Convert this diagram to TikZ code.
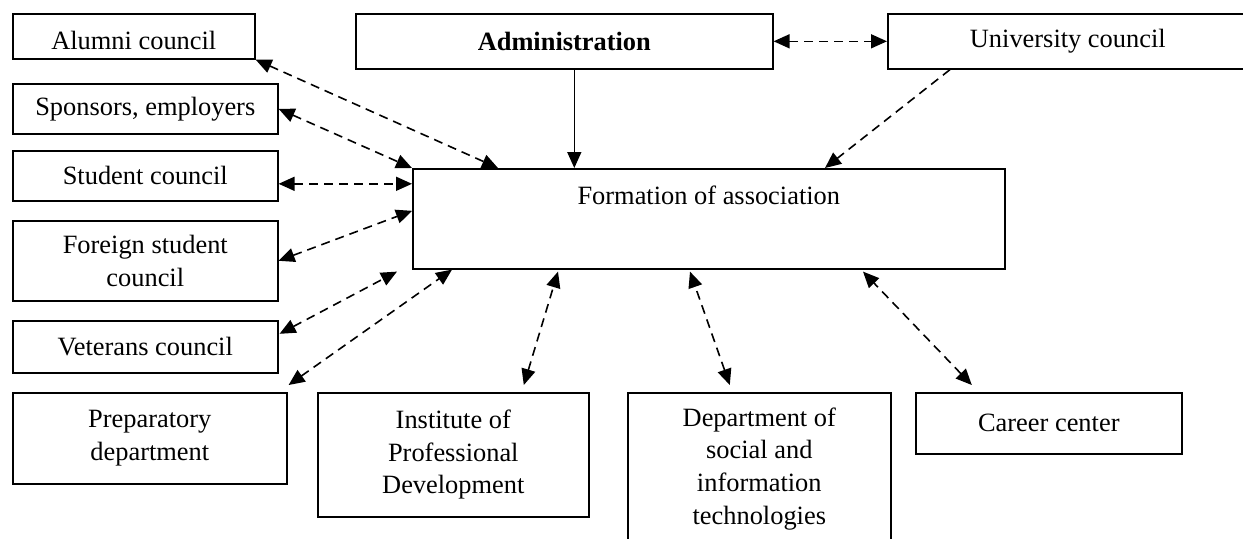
\documentclass[tikz,border=0pt]{standalone}
\usepackage{fontspec}
\setmainfont{Liberation Serif}
\usetikzlibrary{arrows.meta, calc}

\begin{document}
\begin{tikzpicture}[
    x=0.5pt, y=-0.5pt, % 以像素为单位(y向下)
    every node/.style={font=\fontsize{13.2}{16.3}\selectfont}, % 统一字体
    box/.style={draw, line width=0.8pt, anchor=north west, align=center, inner sep=0pt}, % 方框
    link/.style={line width=0.8pt, dash pattern=on 4.5pt off 3pt, >={Triangle[length=8pt,width=7pt]}}, % 虚线箭头
    main/.style={line width=0.8pt, >={Triangle[length=8pt,width=7pt]}} % 实线箭头
]
    % 0. 画布范围(右侧和底部的框被裁掉)
    \clip (0,0) rectangle (1243,538);

    % 1. 左侧一列方框
    \node[box, minimum width=121pt, text height=18pt, text depth=4.5pt] (alumni) at (12,13) {Alumni council};
    \node[box, minimum width=132.5pt, minimum height=25pt] (sponsors) at (12,83) {Sponsors, employers};
    \node[box, minimum width=132.5pt, minimum height=25pt] (student) at (12,150) {Student council};
    \node[box, minimum width=132.5pt, minimum height=40pt] (foreign) at (12,220) {Foreign student\\council};
    \node[box, minimum width=132.5pt, minimum height=26pt] (veterans) at (12,320) {Veterans council};

    % 2. 顶部方框与中心方框
    \node[box, minimum width=208.5pt, minimum height=27.5pt] (admin) at (355,13) {\textbf{Administration}};
    \node[box, minimum width=180pt, minimum height=27.5pt] (univ) at (887,13) {University council};
    \node[box, minimum width=296pt, text height=18pt, text depth=32pt] (form) at (412,168) {Formation of association};

    % 3. 底部一行方框
    \node[box, minimum width=137pt, minimum height=45.5pt] (prep) at (12,392) {Preparatory\\department};
    \node[box, minimum width=135.5pt, minimum height=62pt] (inst) at (317,392) {Institute of\\Professional\\Development};
    \node[box, minimum width=131.5pt, minimum height=76pt] (dept) at (627,392) {Department of\\social and\\information\\technologies};
    \node[box, minimum width=133pt, minimum height=30.5pt] (career) at (915,392) {Career center};

    % 4. 上方连线
    \draw[main, ->] ($(admin.south)+(10,0)$) -- ($(admin.south |- form.north)+(10,0)$);
    \draw[link, <->] (admin) -- (univ);
    \draw[link, ->] ($(univ.south west)+(63,0)$) -- ($(form.north west)+(413,0)$);

    % 5. 左侧连线(双向虚线)
    \draw[link, <->] (alumni.south east) -- ($(form.north west)+(86,0)$);
    \draw[link, <->] (sponsors.east) -- (form.north west);
    \draw[link, <->] ($(student.east)+(0,8)$) -- ($(student.east -| form.west)+(0,8)$);
    \draw[link, <->] (foreign.east) -- ($(form.west)+(0,-8)$);
    \draw[link, <->] ($(veterans.east)+(1,-13)$) -- ($(form.south west)+(-15,2)$);

    % 6. 下方连线(双向虚线)
    \draw[link, <->] ($(prep.north east)+(1,-7)$) -- ($(form.south west)+(40,0)$);
    \draw[link, <->] ($(inst.north)+(70.5,-7)$) -- ($(form.south west)+(146,2)$);
    \draw[link, <->] ($(dept.north)+(-29.5,-7)$) -- ($(form.south west)+(278,2)$);
    \draw[link, <->] ($(career.north)+(-77,-7)$) -- ($(form.south west)+(451,2)$);

\end{tikzpicture}
\end{document}
